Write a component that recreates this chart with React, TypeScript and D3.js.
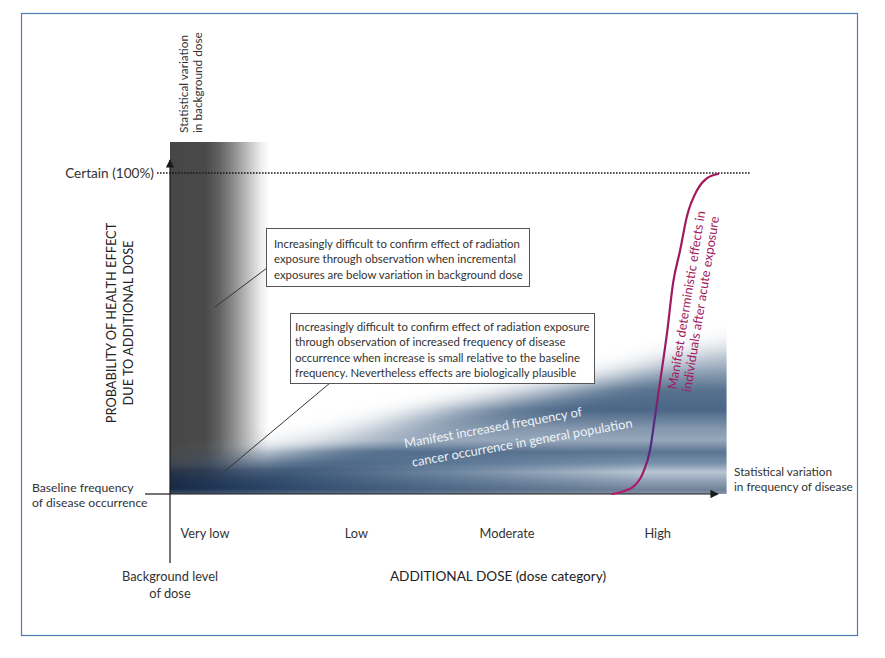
import { useMemo } from "react";
import * as d3 from "d3";

// Dose categories along the x axis (dose in relative units 0..100,
// 0 = background level of dose).
const categories = ["Very low", "Low", "Moderate", "High"];
const categoryDose = [6.4, 34, 61.5, 89];

// Deterministic-effect curve (probability %).
const deterministicDose = [80.7, 82.6, 84.5, 86.3, 87.6, 88.5, 89.4, 90.7, 91.8, 93.1, 94.3, 96.2, 98, 100];
const deterministicProb = [0, 0.8, 2.2, 6.5, 13.7, 24, 34.6, 50.2, 65.7, 76, 86.3, 94.7, 98.4, 99.7];

// Soft upper edge of the "increased frequency of cancer" band.
const stochasticDose = [0, 24, 51, 78.5, 101.6];
const stochasticProb = [8, 14.3, 25.5, 35.5, 46.4];

// Background-dose variation band spans dose 0 .. this.
const backgroundBandDose = [0, 17];

const box1Lines = [
  "Increasingly difficult to confirm effect of radiation",
  "exposure through observation when incremental",
  "exposures are below variation in background dose",
];
const box2Lines = [
  "Increasingly difficult to confirm effect of radiation exposure",
  "through observation of increased frequency of disease",
  "occurrence when increase is small relative to the baseline",
  "frequency.  Nevertheless effects are biologically plausible",
];

const W = 885;
const H = 658;
const FONT = "Lato, 'Open Sans', sans-serif";
const INK = "#333";
const MAGENTA = "#a3195e";

// horizontal streaks in the blue band: [pixel y, colour]
const bandStops: Array<[number, string]> = [
  [300, "#e3e8ee"],
  [340, "#d0d8e1"],
  [366, "#9dadbf"],
  [390, "#58728f"],
  [410, "#4b6787"],
  [428, "#8296ac"],
  [440, "#97a8bb"],
  [452, "#5b7592"],
  [463, "#7890aa"],
  [472, "#b9c6d3"],
  [482, "#8c9db2"],
  [490, "#6f8198"],
  [494, "#8893a1"],
];

export default function App() {
  const x = useMemo(() => d3.scaleLinear().domain([0, 100]).range([170, 718]), []);
  const y = useMemo(() => d3.scaleLinear().domain([0, 100]).range([494, 173]), []);

  const curvePath = useMemo(() => {
    const gen = d3
      .line<number>()
      .x((d) => x(d))
      .y((_, i) => y(deterministicProb[i]))
      .curve(d3.curveMonotoneX);
    return gen(deterministicDose) ?? "";
  }, [x, y]);

  const blueRight = x(stochasticDose[stochasticDose.length - 1]);

  const maskPath = useMemo(() => {
    const pts: Array<[number, number]> = stochasticDose.map((d, i) => [x(d), y(stochasticProb[i])]);
    const first = pts[0];
    const last = pts[pts.length - 1];
    const ext: Array<[number, number]> = [[first[0] - 80, first[1] + 4], ...pts, [last[0] + 80, last[1] - 8]];
    const edge = d3.line().curve(d3.curveMonotoneX)(ext) ?? "";
    return `${edge}L${last[0] + 80},580L${first[0] - 80},580Z`;
  }, [x, y]);

  const x0 = x(0);
  const y0 = y(0);
  const yTop = y(100);
  const bgX1 = x(backgroundBandDose[1]);

  const box1 = { x: 266, y: 228, w: 263, h: 58 };
  const box2 = { x: 290, y: 313, w: 304, h: 70 };

  return (
    <svg
      width={W}
      height={H}
      viewBox={`0 0 ${W} ${H}`}
      style={{ position: "absolute", left: 0, top: 0, background: "#fff" }}
      fontFamily={FONT}
    >
      <defs>
        <linearGradient id="bgBand" gradientUnits="userSpaceOnUse" x1={x0} x2={bgX1 + 6} y1={0} y2={0}>
          <stop offset="0" stopColor="#464646" />
          <stop offset="0.36" stopColor="#4a4a4a" />
          <stop offset="0.5" stopColor="#626262" />
          <stop offset="0.64" stopColor="#8c8c8c" />
          <stop offset="0.8" stopColor="#c4c4c4" />
          <stop offset="0.92" stopColor="#eeeeee" />
          <stop offset="1" stopColor="#ffffff" />
        </linearGradient>
        <linearGradient id="bands" gradientUnits="userSpaceOnUse" x1={0} x2={0} y1={300} y2={494}>
          {bandStops.map(([py, c]) => (
            <stop key={py} offset={(py - 300) / 194} stopColor={c} />
          ))}
        </linearGradient>
        <linearGradient id="navyH" gradientUnits="userSpaceOnUse" x1={x0} x2={640} y1={0} y2={0}>
          <stop offset="0" stopColor="#0f2240" stopOpacity={0.95} />
          <stop offset="0.25" stopColor="#1d3a5e" stopOpacity={0.8} />
          <stop offset="0.6" stopColor="#2a4a70" stopOpacity={0.5} />
          <stop offset="1" stopColor="#2a4a70" stopOpacity={0} />
        </linearGradient>
        <linearGradient id="navyV" gradientUnits="userSpaceOnUse" x1={0} x2={0} y1={446} y2={494}>
          <stop offset="0" stopColor="#fff" stopOpacity={0} />
          <stop offset="0.5" stopColor="#fff" stopOpacity={1} />
          <stop offset="0.88" stopColor="#fff" stopOpacity={1} />
          <stop offset="1" stopColor="#fff" stopOpacity={0.6} />
        </linearGradient>
        <linearGradient id="curveInk" gradientUnits="userSpaceOnUse" x1={0} x2={0} y1={yTop} y2={y0}>
          <stop offset="0" stopColor={MAGENTA} />
          <stop offset="0.68" stopColor="#9b1a62" />
          <stop offset="0.76" stopColor="#5e2a82" />
          <stop offset="0.86" stopColor="#4c2b80" />
          <stop offset="0.93" stopColor="#a11a66" />
          <stop offset="1" stopColor="#b8196c" />
        </linearGradient>
        <filter id="feather" x="-20%" y="-50%" width="140%" height="200%">
          <feGaussianBlur stdDeviation={12} />
        </filter>
        <mask id="blueMask" maskUnits="userSpaceOnUse" x={0} y={0} width={W} height={H}>
          <path d={maskPath} fill="#fff" filter="url(#feather)" />
        </mask>
        <mask id="navyMask" maskUnits="userSpaceOnUse" x={0} y={0} width={W} height={H}>
          <rect x={x0} y={446} width={520} height={48} fill="url(#navyV)" />
        </mask>
        <clipPath id="blueClip">
          <rect x={x0} y={150} width={blueRight - x0} height={y0 - 150} />
        </clipPath>
        <marker id="arrow" viewBox="0 0 10 10" refX={9} refY={5} markerWidth={7} markerHeight={7} orient="auto">
          <path d="M0,0L10,5L0,10Z" fill="#1a1a1a" />
        </marker>
      </defs>

      {/* frame */}
      <rect x={21.5} y={13.5} width={836} height={622} fill="none" stroke="#4d7bb3" strokeWidth={1.2} />

      {/* background dose variation band */}
      <rect x={x0} y={142} width={bgX1 - x0 + 6} height={y0 - 142} fill="url(#bgBand)" />

      {/* stochastic band */}
      <g clipPath="url(#blueClip)">
        <g mask="url(#blueMask)">
          <rect x={x0} y={150} width={blueRight - x0} height={y0 - 150} fill="url(#bands)" />
          <rect x={x0} y={446} width={520} height={48} fill="url(#navyH)" mask="url(#navyMask)" />
        </g>
      </g>

      {/* certain line */}
      <line x1={157} x2={750} y1={yTop} y2={yTop} stroke="#1a1a1a" strokeWidth={1.6} strokeDasharray="1.6 1.4" />

      {/* axes */}
      <line x1={x0} x2={x0} y1={563} y2={160} stroke="#1a1a1a" strokeWidth={1.2} markerEnd="url(#arrow)" />
      <line x1={x0} x2={718} y1={y0} y2={y0} stroke="#1a1a1a" strokeWidth={1.2} markerEnd="url(#arrow)" />
      <line x1={145} x2={x0} y1={y0} y2={y0} stroke="#1a1a1a" strokeWidth={1.2} />

      {/* deterministic curve */}
      <path d={curvePath} fill="none" stroke="url(#curveInk)" strokeWidth={2.2} strokeLinecap="round" />

      {/* leader lines */}
      <line x1={267} y1={268} x2={215} y2={307} stroke="#333" strokeWidth={1} />
      <line x1={330} y1={383} x2={225} y2={471} stroke="#333" strokeWidth={1} />

      {/* annotation boxes */}
      <rect x={box1.x + 0.5} y={box1.y + 0.5} width={box1.w} height={box1.h} fill="#fff" stroke="#555" strokeWidth={1} />
      {box1Lines.map((t, i) => (
        <text key={t} x={box1.x + 8} y={box1.y + 15 + i * 15.6} dominantBaseline="central" fontSize={11.4} fill={INK}>
          {t}
        </text>
      ))}
      <rect x={box2.x + 0.5} y={box2.y + 0.5} width={box2.w} height={box2.h} fill="#fff" stroke="#555" strokeWidth={1} />
      {box2Lines.map((t, i) => (
        <text key={t} x={box2.x + 5} y={box2.y + 13 + i * 15.6} dominantBaseline="central" fontSize={11.4} fill={INK}>
          {t}
        </text>
      ))}

      {/* in-chart labels */}
      <g fill="#eef2f6" fontSize={12.8} textAnchor="middle" dominantBaseline="central">
        <text transform="translate(493,427) rotate(-10.2)">Manifest increased frequency of</text>
        <text transform="translate(522,442) rotate(-10.2)">cancer occurrence in general population</text>
      </g>
      <g fill={MAGENTA} fontSize={12.8} textAnchor="middle" dominantBaseline="central">
        <text transform="translate(686,300) rotate(-80.8)">Manifest deterministic effects in</text>
        <text transform="translate(700,304) rotate(-80.8)">individuals after acute exposure</text>
      </g>

      {/* axis labels */}
      <g fill={INK} fontSize={11.8} dominantBaseline="central">
        <text transform="translate(183,133) rotate(-90)">Statistical variation</text>
        <text transform="translate(197,133) rotate(-90)">in background dose</text>
        <text x={734} y={471}>Statistical variation</text>
        <text x={734} y={486}>in frequency of disease</text>
      </g>
      <text x={154} y={yTop} textAnchor="end" dominantBaseline="central" fontSize={13.6} fill={INK}>
        Certain (100%)
      </text>
      <g fill={INK} fontSize={12.2} dominantBaseline="central">
        <text x={32} y={487}>Baseline frequency</text>
        <text x={32} y={502}>of disease occurrence</text>
      </g>
      <g fill="#222" fontSize={12.8} textAnchor="middle" dominantBaseline="central">
        <text transform="translate(111,323) rotate(-90)">PROBABILITY OF HEALTH EFFECT</text>
        <text transform="translate(128,323) rotate(-90)">DUE TO ADDITIONAL DOSE</text>
      </g>
      {categories.map((c, i) => (
        <text key={c} x={x(categoryDose[i])} y={533} textAnchor="middle" dominantBaseline="central" fontSize={12.8} fill={INK}>
          {c}
        </text>
      ))}
      <g fill={INK} fontSize={12.8} textAnchor="middle" dominantBaseline="central">
        <text x={x0} y={576}>Background level</text>
        <text x={x0} y={593}>of dose</text>
      </g>
      <text x={498} y={576} textAnchor="middle" dominantBaseline="central" fontSize={13.6} fill="#222">
        ADDITIONAL DOSE (dose category)
      </text>
    </svg>
  );
}
